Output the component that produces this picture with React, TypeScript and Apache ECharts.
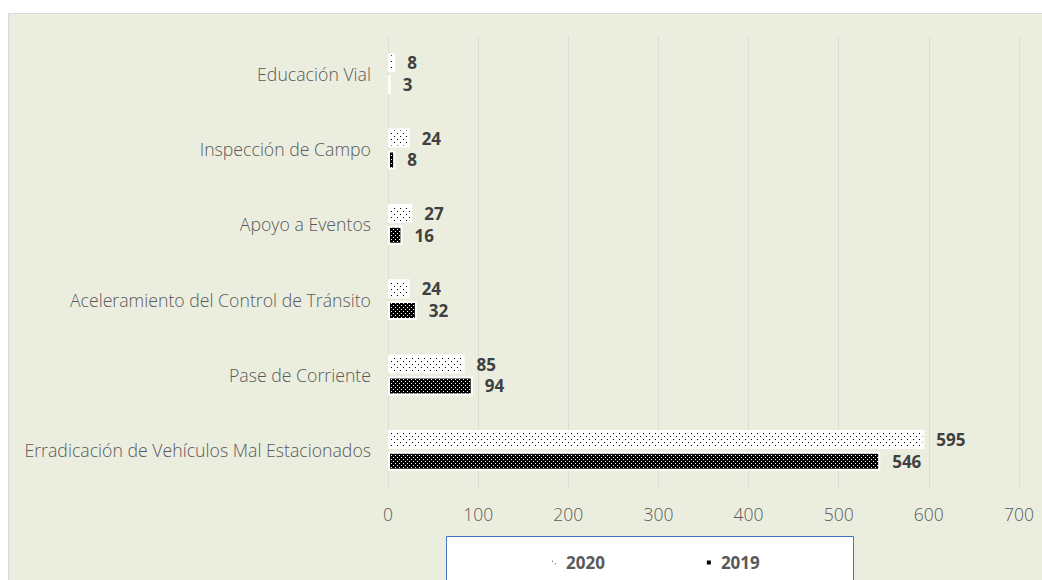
import React, { useEffect, useRef } from "react";
import * as echarts from "echarts";

const categories = [
  "Erradicación de Vehículos Mal Estacionados",
  "Pase de Corriente",
  "Aceleramiento del Control de Tránsito",
  "Apoyo a Eventos",
  "Inspección de Campo",
  "Educación Vial",
];
const values2020 = [595, 85, 24, 27, 24, 8];
const values2019 = [546, 94, 32, 16, 8, 3];
const seriesNames = ["2020", "2019"];
const xTicks = { min: 0, max: 700, interval: 100 };

function makePattern(kind: "light" | "dark"): HTMLCanvasElement {
  const c = document.createElement("canvas");
  if (kind === "light") {
    c.width = 6;
    c.height = 6;
    const ctx = c.getContext("2d")!;
    ctx.fillStyle = "#ffffff";
    ctx.fillRect(0, 0, 6, 6);
    ctx.fillStyle = "#000000";
    ctx.fillRect(1, 1, 1, 1);
    ctx.fillRect(4, 4, 1, 1);
  } else {
    c.width = 4;
    c.height = 4;
    const ctx = c.getContext("2d")!;
    ctx.fillStyle = "#000000";
    ctx.fillRect(0, 0, 4, 4);
    ctx.fillStyle = "#ffffff";
    ctx.fillRect(1, 1, 1, 1);
    ctx.fillRect(3, 3, 1, 1);
  }
  return c;
}

export default function App() {
  const ref = useRef<HTMLDivElement>(null);
  useEffect(() => {
    document.body.style.margin = "0";
    const chart = echarts.init(ref.current!, null, { renderer: "svg" });
    const light = { image: makePattern("light"), repeat: "repeat" };
    const dark = { image: makePattern("dark"), repeat: "repeat" };
    const font = "'Open Sans', sans-serif";
    const valueLabel = {
      show: true,
      position: "right",
      distance: 12,
      fontFamily: font,
      fontSize: 17,
      fontWeight: "bold",
      color: "#404040",
    };
    chart.setOption({
      animation: false,
      backgroundColor: "#ffffff",
      graphic: [
        {
          type: "rect",
          shape: { x: 8.5, y: 13.5, width: 1040, height: 580 },
          style: { fill: "#EBEEDF", stroke: "#D9D9D9", lineWidth: 1 },
          z: -10,
        },
        {
          type: "rect",
          shape: { x: 446.5, y: 536.5, width: 407, height: 60 },
          style: { fill: "#ffffff", stroke: "#4472C4", lineWidth: 1 },
          z: -5,
        },
      ],
      grid: { left: 388, right: 23, top: 36, bottom: 92, containLabel: false },
      legend: {
        data: [
          { name: seriesNames[0] },
          { name: seriesNames[1], itemStyle: { color: "#000000" } },
        ],
        left: 545,
        top: 549,
        itemWidth: 6,
        itemHeight: 6,
        itemGap: 100,
        icon: "rect",
        textStyle: { fontFamily: font, fontSize: 17, fontWeight: "bold", color: "#595959", padding: [0, 0, 0, 4] },
      },
      xAxis: {
        type: "value",
        min: xTicks.min,
        max: xTicks.max,
        interval: xTicks.interval,
        axisLine: { show: false },
        axisTick: { show: false },
        splitLine: { lineStyle: { color: "#DADDD0", width: 1 } },
        axisLabel: { fontFamily: font, fontSize: 17.5, fontWeight: 300, color: "#595959", margin: 17 },
      },
      yAxis: {
        type: "category",
        data: categories,
        axisLine: { show: false },
        axisTick: { show: false },
        axisLabel: { fontFamily: font, fontSize: 17.7, fontWeight: 300, color: "#595959", margin: 17 },
      },
      series: [
        {
          name: seriesNames[0],
          type: "bar",
          data: values2020,
          barWidth: 19,
          barGap: "15%",
          itemStyle: { color: light, borderColor: "#ffffff", borderWidth: 2 },
          label: valueLabel,
        },
        {
          name: seriesNames[1],
          type: "bar",
          data: values2019,
          barWidth: 19,
          barGap: "15%",
          itemStyle: { color: dark, borderColor: "#ffffff", borderWidth: 2 },
          label: valueLabel,
        },
      ],
    });
    return () => chart.dispose();
  }, []);
  return <div ref={ref} style={{ width: 1042, height: 580 }} />;
}
